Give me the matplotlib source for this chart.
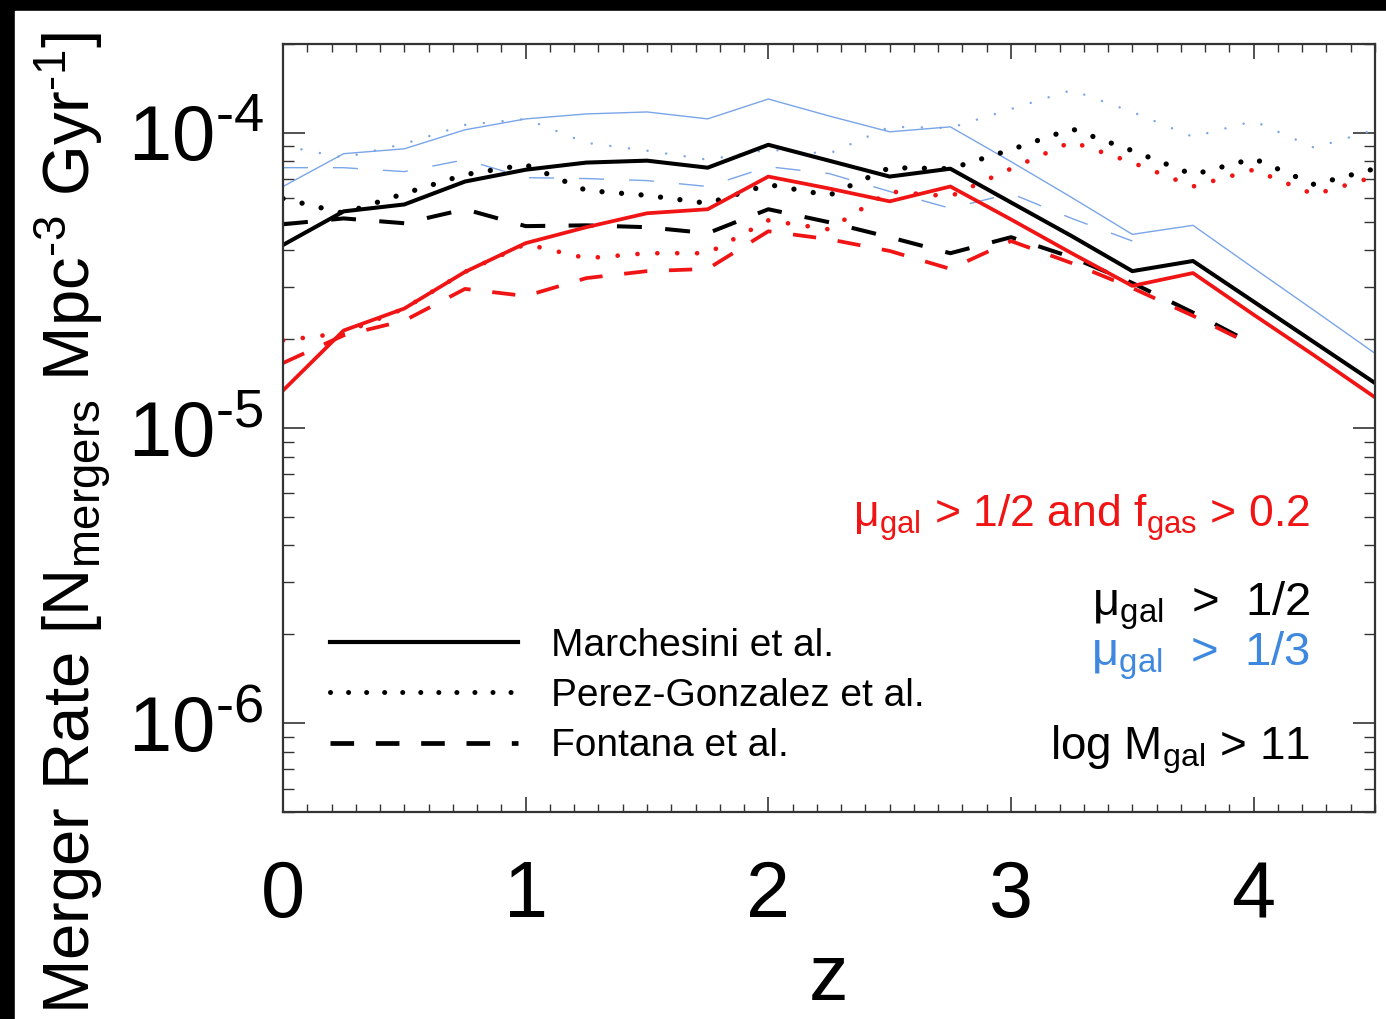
import matplotlib
matplotlib.use('Agg')
import matplotlib.pyplot as plt
from matplotlib.patches import Rectangle
from matplotlib.lines import Line2D
from matplotlib.ticker import MultipleLocator, LogLocator, NullFormatter

plt.rcParams['font.family'] = ['Liberation Sans', 'DejaVu Sans']
plt.rcParams['mathtext.fontset'] = 'custom'
plt.rcParams['mathtext.rm'] = 'Liberation Sans'
plt.rcParams['mathtext.it'] = 'Liberation Sans:italic'
plt.rcParams['mathtext.bf'] = 'Liberation Sans:bold'

# redshift grid
z = [0.0, 0.25, 0.5, 0.75, 1.0, 1.25, 1.5, 1.75, 2.0, 2.25, 2.5, 2.75, 3.0,
     3.25, 3.5, 3.75, 4.0, 4.25, 4.5]
z_fontana = z[:17]
z_fontana_13 = z[:15]

# merger rates in units of 1e-5 Mpc^-3 Gyr^-1
# mu_gal > 1/2
march_12 = [4.17, 5.42, 5.72, 6.84, 7.50, 7.93, 8.05, 7.62, 9.11, 8.05, 7.11,
            7.56, 5.81, 4.47, 3.40, 3.68, 2.68, 1.95, 1.42]
perez_12 = [5.99, 5.34, 6.23, 7.22, 7.80, 6.38, 6.14, 5.77, 6.68, 6.14, 7.62,
            7.56, 8.77, 10.32, 8.70, 7.22, 8.18, 6.68, 7.56]
fontana_12 = [4.90, 5.13, 4.94, 5.51, 4.83, 4.86, 4.79, 4.57, 5.51, 4.98, 4.43,
              3.91, 4.43, 3.79, 3.10, 2.46, 1.92]
# mu_gal > 1/2 and f_gas > 0.2
march_gas = [1.34, 2.14, 2.54, 3.38, 4.23, 4.79, 5.34, 5.51, 7.11, 6.48, 5.86,
             6.58, 5.09, 3.91, 3.03, 3.35, 2.42, 1.76, 1.27]
perez_gas = [1.98, 2.10, 2.54, 3.38, 4.20, 3.76, 3.91, 3.91, 5.05, 4.71, 6.33,
             6.09, 7.56, 9.33, 7.93, 6.58, 7.50, 6.18, 7.11]
fontana_gas = [1.66, 2.06, 2.31, 2.96, 2.80, 3.22, 3.40, 3.46, 4.64, 4.36, 3.98,
               3.46, 4.30, 3.62, 2.98, 2.40, 1.90]
# mu_gal > 1/3
march_13 = [6.58, 8.50, 8.83, 10.24, 11.15, 11.59, 11.77, 11.15, 13.02, 11.41,
            10.08, 10.48, 7.99, 6.04, 4.53, 4.86, 3.48, 2.50, 1.79]
perez_13 = [9.04, 8.24, 9.18, 10.64, 11.15, 9.25, 8.70, 8.11, 8.77, 8.50, 10.48,
            10.39, 12.04, 13.96, 11.77, 9.69, 10.97, 8.90, 10.24]
fontana_13 = [7.62, 7.62, 7.39, 8.11, 7.05, 7.00, 6.89, 6.58, 7.68, 7.28, 6.33,
              5.55, 6.23, 5.13, 4.30]

legend_labels = ['Marchesini et al.', 'Perez-Gonzalez et al.', 'Fontana et al.']


def sc(v):
    return [x * 1e-5 for x in v]


red = '#f01414'
blue = '#7aa5e8'
blue_txt = '#3f88e0'
hy = '\u2010'  # short hyphen instead of the long mathtext minus

fig = plt.figure(figsize=(13.86, 10.19), dpi=100)
fig.patch.set_facecolor('black')
fig.patches.append(Rectangle((15 / 1386, 0), 1, 1 - 11 / 1019,
                             transform=fig.transFigure, color='white', zorder=-10))
ax = fig.add_axes([283 / 1386, 1 - 812 / 1019, 1092 / 1386, 768 / 1019])

dot = dict(dash_capstyle='round')
# mu > 1/3 (thin blue)
ax.plot(z, sc(march_13), color=blue, lw=1.0)
ax.plot(z, sc(perez_13), color=blue, lw=1.8, ls=(0, (0.01, 7.5)), **dot)
ax.plot(z_fontana_13, sc(fontana_13), color=blue, lw=1.0, ls=(0, (18, 18)))
# mu > 1/2 (black)
ax.plot(z, sc(march_12), color='black', lw=2.9)
ax.plot(z, sc(perez_12), color='black', lw=3.8, ls=(0, (0.01, 3.7)), **dot)
ax.plot(z_fontana, sc(fontana_12), color='black', lw=2.9, ls=(0, (6.2, 5.8)))
# mu > 1/2 and fgas > 0.2 (red)
ax.plot(z, sc(march_gas), color=red, lw=2.7)
ax.plot(z, sc(perez_gas), color=red, lw=3.4, ls=(0, (0.01, 4.2)), **dot)
ax.plot(z_fontana, sc(fontana_gas), color=red, lw=2.7, ls=(0, (6.2, 5.8)))

ax.set_yscale('log')
ax.set_xlim(0, 4.5)
ax.set_ylim(5e-7, 2e-4)

ax.set_xticks([0, 1, 2, 3, 4])
ax.set_xticklabels(['0', '1', '2', '3', '4'], fontsize=57)
ax.xaxis.set_minor_locator(MultipleLocator(0.1))
ax.set_yticks([1e-6, 1e-5, 1e-4])
ax.set_yticklabels([r'$\mathregular{10^{%s6}}$' % hy, r'$\mathregular{10^{%s5}}$' % hy,
                    r'$\mathregular{10^{%s4}}$' % hy], fontsize=56)
ax.yaxis.set_minor_locator(LogLocator(base=10, subs=range(2, 10)))
ax.yaxis.set_minor_formatter(NullFormatter())

tc = '#333333'
ax.tick_params(which='both', direction='in', top=True, right=True, color=tc)
ax.tick_params(axis='x', which='major', length=11, width=1.2, pad=34)
ax.tick_params(axis='x', which='minor', length=5.5, width=1.0)
ax.tick_params(axis='y', which='major', length=16, width=1.2, pad=14)
ax.tick_params(axis='y', which='minor', length=8, width=1.0)
for s in ax.spines.values():
    s.set_color(tc)
    s.set_linewidth(1.6)

ax.set_xlabel('z', fontsize=57, va='baseline')
ax.xaxis.set_label_coords(0.5, (812 - 1000) / 768)
ax.set_ylabel(r'Merger Rate [N$_\mathregular{mergers}$ Mpc$^\mathregular{%s3}$ Gyr$^\mathregular{%s1}$]'
              % (hy, hy), fontsize=47, va='baseline', ha='center')
ax.yaxis.set_label_coords((92 - 283) / 1092, (812 - 523) / 768)

# legend for the three observational mass functions
handles = [Line2D([], [], color='black', lw=3),
           Line2D([], [], color='black', lw=3.6, ls=(0, (0.01, 3.6)), dash_capstyle='round'),
           Line2D([], [], color='black', lw=3.4, ls=(0, (5.0, 4.6)))]
ax.legend(handles, legend_labels, loc='upper left', bbox_to_anchor=(0.043, 0.240),
          frameon=False, fontsize=28, handlelength=4.83, handletextpad=0.85,
          labelspacing=0.37, borderpad=0, borderaxespad=0)

tx = 0.9405
ax.text(tx, (812 - 527) / 768,
        r'μ$_\mathregular{gal}$ > 1/2 and f$_\mathregular{gas}$ > 0.2',
        transform=ax.transAxes, ha='right', va='baseline', fontsize=32, color=red)
ax.text(tx, (812 - 615) / 768, r'μ$_\mathregular{gal}$  >  1/2',
        transform=ax.transAxes, ha='right', va='baseline', fontsize=34, color='black')
ax.text(tx, (812 - 665) / 768, r'μ$_\mathregular{gal}$  >  1/3',
        transform=ax.transAxes, ha='right', va='baseline', fontsize=34, color=blue_txt)
ax.text(tx, (812 - 760) / 768, r'log M$_\mathregular{gal}$ > 11',
        transform=ax.transAxes, ha='right', va='baseline', fontsize=33, color='black')

fig.savefig('out.png', dpi=100, facecolor=fig.get_facecolor())
